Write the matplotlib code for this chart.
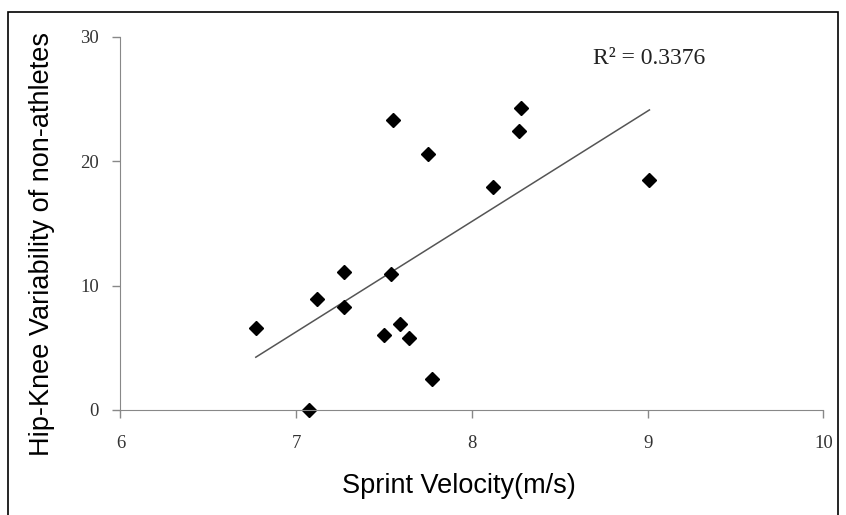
import matplotlib
matplotlib.use('Agg')
import matplotlib.pyplot as plt
import numpy as np
from matplotlib.patches import Rectangle

# --- data ---
velocity = [6.77, 7.07, 7.12, 7.27, 7.27, 7.50, 7.54, 7.55, 7.59, 7.64,
            7.75, 7.77, 8.12, 8.27, 8.28, 9.01]
variability = [6.6, 0.0, 8.9, 11.1, 8.3, 6.0, 10.9, 23.3, 6.9, 5.8,
               20.6, 2.5, 17.9, 22.4, 24.3, 18.5]
x_ticks = [6, 7, 8, 9, 10]
y_ticks = [0, 10, 20, 30]
r2_label = 'R² = 0.3376'

x = np.array(velocity)
y = np.array(variability)
slope, intercept = np.polyfit(x, y, 1)
xfit = np.array([x.min(), x.max()])

serif = ['Liberation Serif', 'DejaVu Serif']
sans = ['Liberation Sans', 'DejaVu Sans']

fig = plt.figure(figsize=(8.46, 5.15), dpi=100)
ax = fig.add_axes([0.1424, 0.2039, 0.8309, 0.7243])

ax.plot(xfit, slope * xfit + intercept, color='#555555', linewidth=1.1)
ax.plot(x, y, 'D', color='black', markersize=7, clip_on=False)

ax.set_xlim(6, 10)
ax.set_ylim(0, 30)
ax.set_xticks(x_ticks)
ax.set_yticks(y_ticks)
ax.set_xticklabels([str(t) for t in x_ticks], fontfamily=serif, fontsize=13.5,
                   color='#333333')
ax.set_yticklabels([str(t) for t in y_ticks], fontfamily=serif, fontsize=13.5,
                   color='#333333')
ax.tick_params(direction='out', length=6, color='#888888', width=1)
ax.tick_params(axis='x', pad=12)
ax.tick_params(axis='y', pad=9.5)

for side in ['top', 'right']:
    ax.spines[side].set_visible(False)
for side in ['left', 'bottom']:
    ax.spines[side].set_color('#888888')

ax.set_xlabel('Sprint Velocity(m/s)', fontsize=19.5, family=sans, va='center')
ax.xaxis.set_label_coords(0.4815, -0.205)
ax.set_ylabel('Hip-Knee Variability of non-athletes', fontsize=19.5,
              family=sans, va='center')
ax.yaxis.set_label_coords(-0.112, 0.445)

ax.text(8.69, 28.3, r2_label, fontsize=17, family=serif, va='center',
        color='#222222')

# outer border of the original figure
fig.patches.append(Rectangle((8 / 846, -0.05), 830 / 846, 1 - 12 / 515 + 0.05,
                             transform=fig.transFigure, fill=False,
                             edgecolor='black', linewidth=1.2))

fig.savefig('out.png', dpi=100)
